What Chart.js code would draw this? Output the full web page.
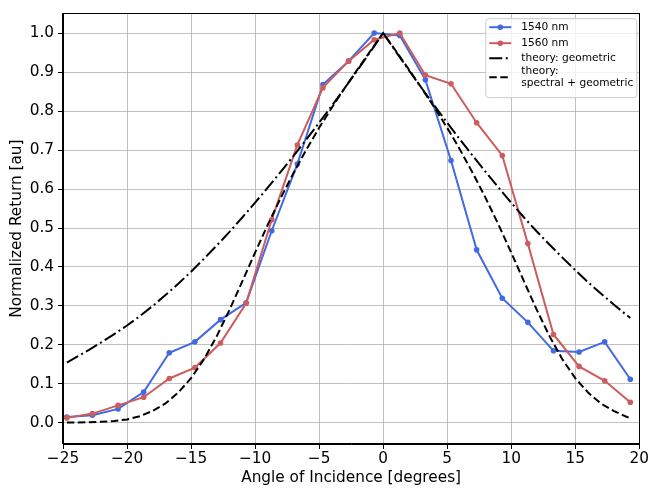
<!DOCTYPE html>
<html>
<head>
<meta charset="utf-8">
<script src="https://cdn.jsdelivr.net/npm/chart.js@4.4.0/dist/chart.umd.min.js"></script>
<style>
html, body { margin: 0; padding: 0; background: #fff; }
</style>
</head>
<body>
<canvas id="myChart" width="650" height="490"></canvas>
<script>
// measured angles and returns
const angles = [-24.7, -22.7, -20.7, -18.7, -16.7, -14.7, -12.7, -10.7, -8.7, -6.7, -4.7, -2.7, -0.7,
    1.3, 3.3, 5.3, 7.3, 9.3, 11.3, 13.3, 15.3, 17.3, 19.3];
const return1540 = [0.015, 0.020, 0.036, 0.079, 0.180, 0.208, 0.265, 0.308, 0.493, 0.664, 0.868, 0.928, 1.000,
    0.994, 0.880, 0.673, 0.444, 0.320, 0.258, 0.185, 0.182, 0.208, 0.112];
const return1560 = [0.013, 0.024, 0.045, 0.066, 0.114, 0.142, 0.205, 0.307, 0.521, 0.713, 0.860, 0.928, 0.983,
    1.000, 0.892, 0.870, 0.770, 0.686, 0.460, 0.227, 0.145, 0.108, 0.053];

// theory curves
const theoryAngles = [-24.7, -24, -23, -22, -21, -20, -19, -18, -17, -16, -15, -14, -13, -12, -11, -10, -9, -8, -7, -6, -5, -4, -3, -2, -1,
    0, 1, 2, 3, 4, 5, 6, 7, 8, 9, 10, 11, 12, 13, 14, 15, 16, 17, 18, 19, 19.3];
const theoryGeometric = [0.155, 0.168, 0.187, 0.207, 0.228, 0.250, 0.274, 0.300, 0.328, 0.357, 0.388, 0.421, 0.455, 0.490, 0.527, 0.565, 0.604, 0.644, 0.685, 0.727, 0.770, 0.814, 0.859, 0.905, 0.952,
    1.000, 0.952, 0.905, 0.859, 0.814, 0.770, 0.727, 0.685, 0.644, 0.604, 0.565, 0.527, 0.491, 0.457, 0.424, 0.392, 0.361, 0.332, 0.304, 0.277, 0.269];
const theorySpectral = [0.001, 0.001, 0.002, 0.003, 0.005, 0.009, 0.017, 0.031, 0.050, 0.078, 0.115, 0.163, 0.222, 0.290, 0.363, 0.437, 0.509, 0.577, 0.641, 0.701, 0.757, 0.809, 0.859, 0.907, 0.954,
    1.000, 0.954, 0.907, 0.859, 0.809, 0.757, 0.701, 0.641, 0.577, 0.509, 0.437, 0.363, 0.290, 0.222, 0.163, 0.115, 0.078, 0.050, 0.031, 0.016, 0.012];

const xTicks = [-25, -20, -15, -10, -5, 0, 5, 10, 15, 20];
const yTicks = [0.0, 0.1, 0.2, 0.3, 0.4, 0.5, 0.6, 0.7, 0.8, 0.9, 1.0];
const legendLabels = ['1540 nm', '1560 nm', 'theory: geometric', ['theory:', 'spectral + geometric']];

const font = '"DejaVu Sans", sans-serif';
const toPoints = (xs, ys) => xs.map((x, i) => ({ x: x, y: ys[i] }));

// matplotlib-ish frame + legend box, drawn on top
const boxLegend = {
    id: 'boxLegend',
    afterDraw(chart) {
        const ctx = chart.ctx;
        const a = chart.chartArea;
        ctx.save();
        ctx.strokeStyle = '#000';
        ctx.lineWidth = 1;
        ctx.strokeRect(Math.round(a.left) - 0.5, Math.round(a.top) + 0.5,
            Math.round(a.right - a.left) + 1, Math.round(a.bottom - a.top) - 1);

        const w = 151, h = 79;
        const bx = a.right - 3 - w, by = a.top + 5;
        ctx.beginPath();
        ctx.roundRect(bx + 0.5, by + 0.5, w, h, 3);
        ctx.fillStyle = 'rgba(255,255,255,0.8)';
        ctx.fill();
        ctx.strokeStyle = '#cccccc';
        ctx.stroke();

        const rows = [9, 25, 40, 59];
        ctx.font = '10.6px ' + font;
        ctx.textBaseline = 'middle';
        chart.data.datasets.forEach((ds, i) => {
            const y = by + rows[i];
            ctx.strokeStyle = ds.borderColor;
            ctx.lineWidth = ds.borderWidth;
            ctx.setLineDash(ds.borderDash || []);
            ctx.beginPath();
            ctx.moveTo(bx + 4, y);
            ctx.lineTo(bx + 26, y);
            ctx.stroke();
            ctx.setLineDash([]);
            if (ds.pointRadius > 0) {
                ctx.fillStyle = ds.borderColor;
                ctx.beginPath();
                ctx.arc(bx + 15, y, ds.pointRadius, 0, Math.PI * 2);
                ctx.fill();
            }
            ctx.fillStyle = '#000';
            const lbl = legendLabels[i];
            if (Array.isArray(lbl)) {
                ctx.fillText(lbl[0], bx + 36, y - 6);
                ctx.fillText(lbl[1], bx + 36, y + 6);
            } else {
                ctx.fillText(lbl, bx + 36, y);
            }
        });
        ctx.restore();
    }
};

const ctx = document.getElementById('myChart').getContext('2d');
new Chart(ctx, {
    type: 'line',
    data: {
        datasets: [{
            data: toPoints(angles, return1540),
            borderColor: '#4169e1',
            backgroundColor: '#4169e1',
            borderWidth: 2,
            pointRadius: 2.8,
            pointBorderWidth: 0,
            order: 4
        }, {
            data: toPoints(angles, return1560),
            borderColor: '#cd5c5c',
            backgroundColor: '#cd5c5c',
            borderWidth: 2,
            pointRadius: 2.8,
            pointBorderWidth: 0,
            order: 3
        }, {
            data: toPoints(theoryAngles, theoryGeometric),
            borderColor: '#000',
            borderWidth: 2,
            borderDash: [13, 3.5, 2, 3.5],
            pointRadius: 0,
            order: 2
        }, {
            data: toPoints(theoryAngles, theorySpectral),
            borderColor: '#000',
            borderWidth: 2,
            borderDash: [7.5, 3.5],
            pointRadius: 0,
            order: 1
        }]
    },
    options: {
        responsive: false,
        animation: false,
        devicePixelRatio: 1,
        layout: { padding: { top: 12, right: 10, left: 0, bottom: 0 } },
        elements: { line: { tension: 0, fill: false } },
        scales: {
            x: {
                type: 'linear',
                min: -25,
                max: 20,
                afterFit: (s) => { s.height = 46; },
                afterBuildTicks: (s) => { s.ticks = xTicks.map(v => ({ value: v })); },
                ticks: {
                    color: '#000',
                    padding: 1,
                    maxRotation: 0,
                    font: { family: font, size: 15.3 },
                    callback: (v) => String(v).replace('-', '\u2212')
                },
                grid: { color: '#b0b0b0', lineWidth: 0.8, tickColor: '#000', tickLength: 5, tickWidth: 1 },
                border: { color: '#000', width: 1 },
                title: {
                    display: true,
                    text: 'Angle of Incidence [degrees]',
                    color: '#000',
                    font: { family: font, size: 15.3 },
                    padding: { top: 0, bottom: 3 }
                }
            },
            y: {
                type: 'linear',
                min: -0.054,
                max: 1.051,
                afterFit: (s) => { s.width = 63; },
                afterBuildTicks: (s) => { s.ticks = yTicks.map(v => ({ value: v })); },
                ticks: {
                    color: '#000',
                    padding: 4,
                    font: { family: font, size: 15.3 },
                    callback: (v) => v.toFixed(1)
                },
                grid: { color: '#b0b0b0', lineWidth: 0.8, tickColor: '#000', tickLength: 5, tickWidth: 1 },
                border: { color: '#000', width: 1 },
                title: {
                    display: true,
                    text: 'Normalized Return [au]',
                    color: '#000',
                    font: { family: font, size: 15.3 },
                    padding: { top: 8, bottom: 0 }
                }
            }
        },
        plugins: {
            legend: { display: false },
            tooltip: { enabled: false }
        }
    },
    plugins: [boxLegend]
});
</script>
</body>
</html>
